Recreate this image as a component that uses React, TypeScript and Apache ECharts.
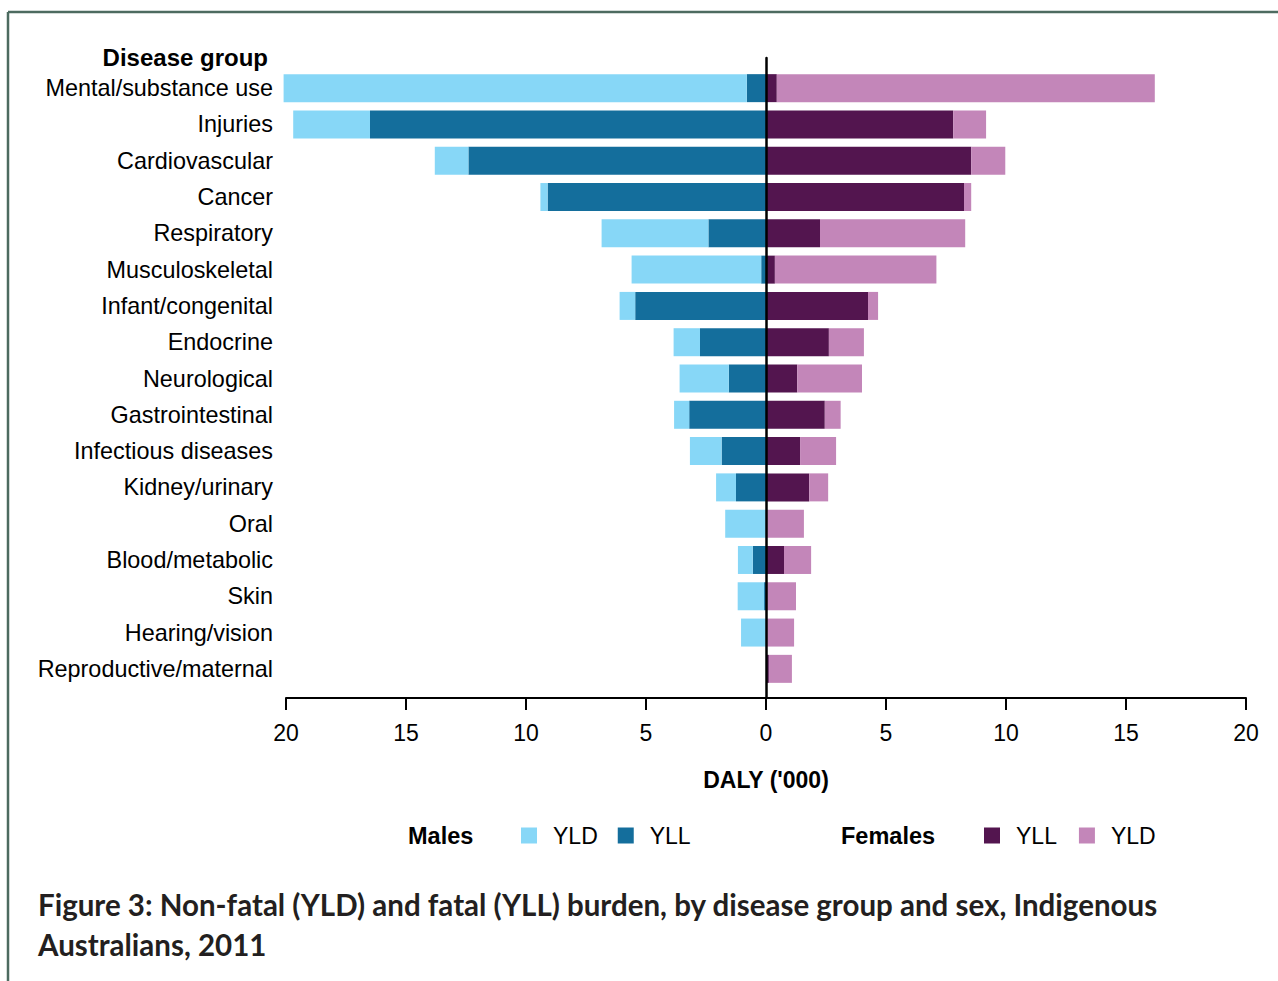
import React, { useEffect, useRef } from "react";
import * as echarts from "echarts";

const categories = [
  "Mental/substance use",
  "Injuries",
  "Cardiovascular",
  "Cancer",
  "Respiratory",
  "Musculoskeletal",
  "Infant/congenital",
  "Endocrine",
  "Neurological",
  "Gastrointestinal",
  "Infectious diseases",
  "Kidney/urinary",
  "Oral",
  "Blood/metabolic",
  "Skin",
  "Hearing/vision",
  "Reproductive/maternal",
];

// DALY ('000)
const maleYLL = [0.8, 16.5, 12.4, 9.1, 2.4, 0.2, 5.45, 2.75, 1.55, 3.2, 1.85, 1.25, 0, 0.55, 0.08, 0, 0];
const maleYLD = [19.3, 3.2, 1.4, 0.3, 4.45, 5.4, 0.65, 1.1, 2.05, 0.63, 1.32, 0.83, 1.7, 0.62, 1.1, 1.04, 0];
const femaleYLL = [0.45, 7.8, 8.55, 8.25, 2.25, 0.37, 4.25, 2.62, 1.3, 2.45, 1.42, 1.8, 0, 0.75, 0.04, 0, 0.12];
const femaleYLD = [15.75, 1.37, 1.42, 0.3, 6.05, 6.73, 0.42, 1.46, 2.7, 0.66, 1.5, 0.79, 1.58, 1.13, 1.21, 1.17, 0.96];

const xTicks = [-20, -15, -10, -5, 0, 5, 10, 15, 20];

const titleLine1 = "Figure 3: Non-fatal (YLD) and fatal (YLL) burden, by disease group and sex, Indigenous";
const titleLine2 = "Australians, 2011";

const COLORS = {
  maleYLD: "#87D7F7",
  maleYLL: "#146E9C",
  femaleYLL: "#53154F",
  femaleYLD: "#C386B9",
};

const FONT = '"Liberation Sans", Arial, sans-serif';

export default function App() {
  const ref = useRef<HTMLDivElement>(null);

  useEffect(() => {
    if (!ref.current) return;
    const chart = echarts.init(ref.current, null, { renderer: "svg" });

    const barCommon = {
      type: "bar",
      stack: "all",
      barWidth: 28,
      clip: false,
      xAxisIndex: 0,
      yAxisIndex: 0,
    };

    const option: any = {
      animation: false,
      backgroundColor: "#ffffff",
      textStyle: { fontFamily: FONT },
      grid: [
        { left: 286, right: 32, top: 70, bottom: 294, containLabel: false },
        { left: 286, right: 32, top: 58, bottom: 283, containLabel: false },
      ],
      xAxis: [
        {
          type: "value",
          gridIndex: 0,
          min: xTicks[0],
          max: xTicks[xTicks.length - 1],
          interval: 5,
          offset: 11,
          position: "bottom",
          axisLine: { show: true, onZero: false, lineStyle: { color: "#000", width: 2 } },
          axisTick: { show: true, length: 12, lineStyle: { color: "#000", width: 2 } },
          axisLabel: {
            margin: 23,
            fontSize: 23,
            color: "#000",
            fontFamily: FONT,
            formatter: (v: number) => String(Math.abs(v)),
          },
          splitLine: { show: false },
          name: "DALY ('000)",
          nameLocation: "middle",
          nameGap: 70,
          nameTextStyle: { fontSize: 23, fontWeight: "bold", color: "#000", fontFamily: FONT },
        },
        {
          type: "value",
          gridIndex: 1,
          min: -20,
          max: 20,
          show: false,
        },
      ],
      yAxis: [
        {
          type: "category",
          gridIndex: 0,
          data: categories,
          inverse: true,
          axisLine: { show: false },
          axisTick: { show: false },
          splitLine: { show: false },
          axisLabel: { margin: 13, fontSize: 23.4, color: "#000", fontFamily: FONT },
        },
        {
          type: "value",
          gridIndex: 1,
          min: 0,
          max: 1,
          z: 10,
          axisLine: { show: true, onZero: true, lineStyle: { color: "#000", width: 2.5 } },
          axisTick: { show: false },
          axisLabel: { show: false },
          splitLine: { show: false },
        },
      ],
      legend: [
        {
          data: ["Males YLD", "Males YLL"],
          left: 521,
          top: 824,
          padding: 0,
          itemWidth: 16,
          itemHeight: 16,
          itemGap: 20,
          icon: "rect",
          formatter: (n: string) => n.split(" ")[1],
          textStyle: { fontSize: 23, color: "#000", fontFamily: FONT, padding: [0, 0, 0, 11] },
          selectedMode: false,
        },
        {
          data: ["Females YLL", "Females YLD"],
          left: 984,
          top: 824,
          padding: 0,
          itemWidth: 16,
          itemHeight: 16,
          itemGap: 22,
          icon: "rect",
          formatter: (n: string) => n.split(" ")[1],
          textStyle: { fontSize: 23, color: "#000", fontFamily: FONT, padding: [0, 0, 0, 11] },
          selectedMode: false,
        },
      ],
      series: [
        { ...barCommon, name: "Males YLL", itemStyle: { color: COLORS.maleYLL }, data: maleYLL.map((v) => -v) },
        { ...barCommon, name: "Males YLD", itemStyle: { color: COLORS.maleYLD }, data: maleYLD.map((v) => -v) },
        { ...barCommon, name: "Females YLL", itemStyle: { color: COLORS.femaleYLL }, data: femaleYLL },
        { ...barCommon, name: "Females YLD", itemStyle: { color: COLORS.femaleYLD }, data: femaleYLD },
      ],
      graphic: [
        { type: "line", shape: { x1: 8, y1: 12, x2: 1278, y2: 12 }, style: { stroke: "#4d6b60", lineWidth: 2.5 } },
        { type: "line", shape: { x1: 8, y1: 12, x2: 8, y2: 981 }, style: { stroke: "#4d6b60", lineWidth: 2.5 } },
        {
          type: "text",
          x: 268,
          y: 57,
          style: { text: "Disease group", fontSize: 24, fontWeight: "bold", fontFamily: FONT, fill: "#000", align: "right", verticalAlign: "middle" },
        },
        {
          type: "text",
          x: 408,
          y: 836,
          style: { text: "Males", fontSize: 23.5, fontWeight: "bold", fontFamily: FONT, fill: "#000", align: "left", verticalAlign: "middle" },
        },
        {
          type: "text",
          x: 841,
          y: 836,
          style: { text: "Females", fontSize: 23.5, fontWeight: "bold", fontFamily: FONT, fill: "#000", align: "left", verticalAlign: "middle" },
        },
        {
          type: "text",
          x: 38,
          y: 904,
          style: { text: titleLine1, fontSize: 29.5, fontWeight: "bold", fontFamily: "Lato, sans-serif", fill: "#231f20", align: "left", verticalAlign: "middle" },
        },
        {
          type: "text",
          x: 38,
          y: 944,
          style: { text: titleLine2, fontSize: 29.5, fontWeight: "bold", fontFamily: "Lato, sans-serif", fill: "#231f20", align: "left", verticalAlign: "middle" },
        },
      ],
    };

    chart.setOption(option);
    return () => chart.dispose();
  }, []);

  return (
    <div
      ref={ref}
      style={{ position: "fixed", left: 0, top: 0, width: 1278, height: 981, background: "#fff" }}
    />
  );
}
